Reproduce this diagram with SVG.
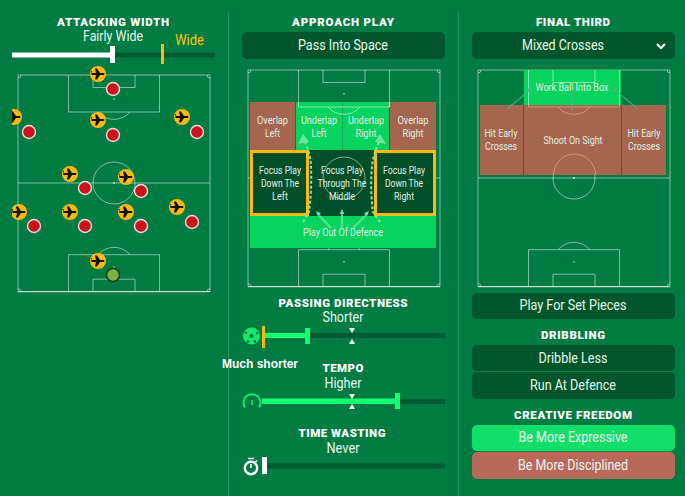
<svg xmlns="http://www.w3.org/2000/svg" width="685" height="496" viewBox="0 0 685 496">
<style>
.h{font:900 11.5px Roboto,"Liberation Sans",sans-serif;fill:#fff;text-anchor:middle}
.t{font:400 14.5px Roboto,"Liberation Sans",sans-serif;fill:#e9f6ee;text-anchor:middle}
.z{font:400 11.5px Roboto,"Liberation Sans",sans-serif;fill:#e2efe6;text-anchor:middle}
.btn{fill:#00562b}
.ln{fill:none;stroke:#fff;stroke-opacity:.5;stroke-width:1}
.lnb{fill:none;stroke:#fff;stroke-opacity:.75;stroke-width:1.200}
.track{fill:#005c2f}
.brown{fill:#a5654f}
.lime{fill:#06d45e}
.dark{fill:#004f28}
.sel{fill:none;stroke:#fdb913;stroke-width:3}
.arw{fill:none;stroke:#7fe8a8;stroke-opacity:.7;stroke-width:2}
.dash{fill:none;stroke:#7fe8a8;stroke-width:2;stroke-dasharray:3 2}
.ah{fill:#7fe8a8;fill-opacity:.85}
.ft{fill:none;stroke:#4fb07a;stroke-opacity:.75;stroke-width:1.600}
.fth{fill:#4fb07a;fill-opacity:.85}
.y{fill:#fdb913}
.r{fill:#c8141e;stroke:#f0dcdc;stroke-width:1.400}
.fast{fill:#14ff70}
</style>
<defs>
<g id="pitch">
<path class="ln" d="M0 216.700V0H192V216.700" stroke-width="1.200"/>
<path class="lnb" d="M0 216.700H192"/>
<path class="ln" d="M50.500 0V37H141.500V0M75 0V12.500H117V0M0 108H192"/>
<circle class="ln" cx="96" cy="108" r="21"/>
<path class="ln" d="M80 37A21 21 0 0 0 112 37"/>
<path class="ln" d="M50.500 216.700V179.700H141.500V216.700M75 216.700V204.200H117V216.700"/>
<path class="ln" d="M80 179.700A21 21 0 0 1 112 179.700"/>
<circle cx="96" cy="24" r=".8" fill="#fff" fill-opacity=".7"/>
<circle cx="96" cy="192" r=".8" fill="#fff" fill-opacity=".7"/>
<circle cx="96" cy="108" r=".9" fill="#fff" fill-opacity=".8"/>
<path class="ln" d="M0 3A3 3 0 0 0 3 0M189 0A3 3 0 0 0 192 3M0 213.700A3 3 0 0 1 3 216.700M189 216.700A3 3 0 0 1 192 213.700"/>
</g>
<g id="pl"><circle class="y" r="8"/><path d="M-6.500-1H-2L-3-5.500H-1L2-1H5.500C6.800-1 6.800 1 5.500 1H2L-1 5.500H-3L-2 1H-6.500L-7-3H-6Z" fill="#111"/></g>
<circle id="rd" class="r" r="6.500"/>
</defs>
<rect width="685" height="496" fill="#007b41"/>
<path d="M228.500 12V496M458.500 12V496" stroke="#fff" stroke-opacity=".16" fill="none"/>

<g id="attacking-width">
<text class="h" x="113" y="26" textLength="112">ATTACKING WIDTH</text>
<text class="t" x="113" y="41" textLength="60" lengthAdjust="spacingAndGlyphs">Fairly Wide</text>
<text x="189.500" y="45" font-family="Roboto,'Liberation Sans',sans-serif" font-size="14" fill="#ffc400" text-anchor="middle" textLength="29" lengthAdjust="spacingAndGlyphs">Wide</text>
<rect class="track" x="112" y="52.500" width="103" height="5"/>
<rect x="12" y="52.500" width="100" height="5" fill="#fff"/>
<rect x="110" y="46" width="5" height="17" fill="#fff"/>
<rect x="161" y="44" width="3" height="20" fill="#fdb913"/>
</g>
<g id="formation-pitch">
<use href="#pitch" x="18" y="75"/>
<use href="#rd" x="113" y="89"/><use href="#rd" x="29" y="132"/><use href="#rd" x="113" y="135"/><use href="#rd" x="197" y="132"/>
<use href="#rd" x="85" y="188"/><use href="#rd" x="141" y="191"/><use href="#rd" x="34" y="226"/><use href="#rd" x="85" y="226"/><use href="#rd" x="141" y="226"/><use href="#rd" x="192" y="222"/>
<circle cx="113" cy="275" r="6.500" fill="#7cb342" stroke="#1b3a20" stroke-width="1.500"/>
<clipPath id="c1"><rect x="12" y="60" width="210" height="240"/></clipPath>
<g clip-path="url(#c1)">
<use href="#pl" x="98" y="74"/><use href="#pl" x="14" y="117"/><use href="#pl" x="98" y="120"/><use href="#pl" x="182" y="117"/>
<use href="#pl" x="70" y="174"/><use href="#pl" x="126" y="177"/><use href="#pl" x="19" y="212"/><use href="#pl" x="70" y="212"/><use href="#pl" x="126" y="212"/><use href="#pl" x="177" y="207"/><use href="#pl" x="98" y="261"/>
</g>
</g>

<g id="approach-title"><text class="h" x="343" y="26" textLength="102">APPROACH PLAY</text></g>
<g id="pass-into-space"><rect class="btn" x="242" y="32" width="203" height="27" rx="5"/><text class="t" x="343" y="50" textLength="90" lengthAdjust="spacingAndGlyphs">Pass Into Space</text></g>
<g id="approach-pitch"><use href="#pitch" x="248" y="70"/></g>
<g id="overlap-left"><rect class="brown" x="250" y="102" width="45" height="48"/><text class="z" x="272.500" y="124" textLength="31" lengthAdjust="spacingAndGlyphs">Overlap</text><text class="z" x="272.500" y="137" textLength="15" lengthAdjust="spacingAndGlyphs">Left</text></g>
<g id="underlap-left"><rect class="lime" x="296" y="102" width="46.500" height="48"/><text class="z" x="319" y="124" textLength="36" lengthAdjust="spacingAndGlyphs">Underlap</text><text class="z" x="319" y="137" textLength="15" lengthAdjust="spacingAndGlyphs">Left</text></g>
<g id="underlap-right"><rect class="lime" x="343" y="102" width="46" height="48"/><text class="z" x="366" y="124" textLength="36" lengthAdjust="spacingAndGlyphs">Underlap</text><text class="z" x="366" y="137" textLength="21" lengthAdjust="spacingAndGlyphs">Right</text></g>
<g id="overlap-right"><rect class="brown" x="390" y="102" width="46" height="48"/><text class="z" x="413" y="124" textLength="31" lengthAdjust="spacingAndGlyphs">Overlap</text><text class="z" x="413" y="137" textLength="21" lengthAdjust="spacingAndGlyphs">Right</text></g>
<rect class="dark" x="250" y="150" width="186" height="66"/>
<path class="ln" d="M298.500 102V107H389.500V102M328 107A21 21 0 0 0 360 107" stroke-opacity=".35"/>
<circle class="ln" cx="344" cy="178" r="21" stroke-opacity=".3"/>
<g id="play-out"><rect class="lime" x="250" y="216" width="186" height="32"/><text class="z" x="343" y="235.500" textLength="80" lengthAdjust="spacingAndGlyphs">Play Out Of Defence</text></g>
<g id="focus-left"><rect class="sel" x="251.500" y="151.500" width="56" height="63"/><text class="z" x="280" y="174" textLength="42" lengthAdjust="spacingAndGlyphs">Focus Play</text><text class="z" x="280" y="187" textLength="38" lengthAdjust="spacingAndGlyphs">Down The</text><text class="z" x="280" y="200" textLength="16" lengthAdjust="spacingAndGlyphs">Left</text></g>
<g id="focus-middle"><text class="z" x="342" y="174" textLength="42" lengthAdjust="spacingAndGlyphs">Focus Play</text><text class="z" x="342" y="187" textLength="49" lengthAdjust="spacingAndGlyphs">Through The</text><text class="z" x="342" y="200" textLength="26" lengthAdjust="spacingAndGlyphs">Middle</text></g>
<g id="focus-right"><rect class="sel" x="375.500" y="151.500" width="59" height="63"/><text class="z" x="404" y="174" textLength="42" lengthAdjust="spacingAndGlyphs">Focus Play</text><text class="z" x="404" y="187" textLength="38" lengthAdjust="spacingAndGlyphs">Down The</text><text class="z" x="404" y="200" textLength="20" lengthAdjust="spacingAndGlyphs">Right</text></g>

<g id="passing-directness">
<text class="h" x="343" y="307" textLength="129">PASSING DIRECTNESS</text>
<text class="t" x="343" y="322" textLength="41" lengthAdjust="spacingAndGlyphs">Shorter</text>
<rect class="track" x="262" y="333" width="183" height="5"/>
<rect class="fast" x="265" y="333" width="40" height="5"/>
<rect class="fast" x="305" y="328" width="5" height="16"/>
<rect x="262" y="326" width="3" height="22" fill="#fdb913"/>
<path d="M349 328H355L352 333ZM349 344H355L352 339Z" fill="#fff"/>
<circle cx="251.500" cy="336" r="8.500" fill="#14e868"/>
<circle cx="251.500" cy="336" r="2" fill="#006a38"/><circle cx="246" cy="333" r="1.200" fill="#006a38"/><circle cx="257" cy="333" r="1.200" fill="#006a38"/><circle cx="248" cy="341.500" r="1.200" fill="#006a38"/><circle cx="255" cy="341.500" r="1.200" fill="#006a38"/>
<text x="260" y="368" font-family="'Liberation Sans',sans-serif" font-size="12" font-weight="700" fill="#fff" text-anchor="middle" textLength="76">Much shorter</text>
</g>
<g id="tempo">
<text class="h" x="343" y="372" textLength="41">TEMPO</text>
<text class="t" x="343" y="388" textLength="37" lengthAdjust="spacingAndGlyphs">Higher</text>
<rect class="track" x="262" y="399" width="183" height="5"/>
<rect class="fast" x="262" y="398.500" width="136" height="5.500"/>
<rect class="fast" x="395" y="393" width="5" height="16"/>
<path d="M349 394H355L352 399ZM349 409H355L352 404Z" fill="#fff"/>
<path d="M245 407.500A8.500 8.500 0 1 1 259 407.500" fill="none" stroke="#14e868" stroke-width="2"/><path d="M252 400V405" stroke="#14e868" stroke-width="1.500"/>
</g>
<g id="time-wasting">
<text class="h" x="342" y="437" textLength="87">TIME WASTING</text>
<text class="t" x="343" y="453" textLength="33" lengthAdjust="spacingAndGlyphs">Never</text>
<rect class="track" x="262" y="463.500" width="183" height="5"/>
<rect x="262" y="457" width="5" height="17" fill="#fff"/>
<circle cx="251" cy="468" r="6.200" fill="none" stroke="#fff" stroke-width="2.400"/><path d="M248 458.500H254M257 460.500L255.500 462M251 468V464" stroke="#fff" stroke-width="1.600" fill="none"/>
</g>

<g id="final-title"><text class="h" x="573" y="26" textLength="74">FINAL THIRD</text></g>
<g id="mixed-crosses"><rect class="btn" x="472" y="32" width="203" height="27" rx="5"/><text class="t" x="563" y="50" textLength="82" lengthAdjust="spacingAndGlyphs">Mixed Crosses</text><path d="M657 44L661 48L665 44" fill="none" stroke="#fff" stroke-width="2"/></g>
<g id="final-pitch"><use href="#pitch" x="478" y="70"/></g>
<g id="work-ball"><rect x="524" y="70" width="97" height="35" fill="#06d45e"/><path class="ln" d="M528.500 70V107H619.500V70M553 70V82.500H595V70" stroke-opacity=".4"/><text class="z" x="572" y="90.500" textLength="73" lengthAdjust="spacingAndGlyphs">Work Ball Into Box</text></g>
<g id="hit-early-left"><rect class="brown" x="480" y="105" width="43" height="70"/><text class="z" x="501" y="137" textLength="33" lengthAdjust="spacingAndGlyphs">Hit Early</text><text class="z" x="501" y="150" textLength="32" lengthAdjust="spacingAndGlyphs">Crosses</text></g>
<g id="shoot-on-sight"><rect class="brown" x="524" y="105" width="97" height="70"/><path d="M528.500 105V107H619.500V105M558 107A21 21 0 0 0 590 107M553.500 175A21 21 0 0 1 595.500 175" fill="none" stroke="#f0a090" stroke-opacity=".7"/><text class="z" x="573" y="144" textLength="59" lengthAdjust="spacingAndGlyphs">Shoot On Sight</text></g>
<g id="hit-early-right"><rect class="brown" x="622" y="105" width="44" height="70"/><text class="z" x="644" y="137" textLength="33" lengthAdjust="spacingAndGlyphs">Hit Early</text><text class="z" x="644" y="150" textLength="32" lengthAdjust="spacingAndGlyphs">Crosses</text></g>

<g id="connectors">
<path class="dash" d="M303 222L309 212Q312 190 311 167Q311 155 305 142"/>
<path class="dash" d="M380 222L373 212Q370 190 372 167Q373 155 379 142"/>
<path class="arw" d="M342 229V212M331 228L317 213M353 228L368 213"/>
<path class="ah" d="M303 134L309 142L298 144ZM380 134L386 144L375 142ZM342 209L344.500 214H339.500ZM316 211L321 213L318 216ZM369 211L367 216L364 213Z"/>
<path class="ft" d="M507 109L530 90M572 111V92M638 109L615 90"/>
<path class="fth" d="M532 87.500L530 92.500L527 89ZM572 88.500L574.500 93H569.500ZM613 87.500L618 89L615 92.500Z"/>
</g>

<g id="set-pieces"><rect class="btn" x="472" y="293" width="203" height="26" rx="5"/><text class="t" x="573" y="310" textLength="107" lengthAdjust="spacingAndGlyphs">Play For Set Pieces</text></g>
<g id="dribbling-title"><text class="h" x="573" y="339" textLength="64">DRIBBLING</text></g>
<g id="dribble-less"><rect class="btn" x="472" y="345" width="203" height="26" rx="5"/><text class="t" x="573" y="363" textLength="69" lengthAdjust="spacingAndGlyphs">Dribble Less</text></g>
<g id="run-at-defence"><rect class="btn" x="472" y="372" width="203" height="27" rx="5"/><text class="t" x="573" y="390" textLength="86" lengthAdjust="spacingAndGlyphs">Run At Defence</text></g>
<g id="creative-title"><text class="h" x="573" y="419" textLength="118">CREATIVE FREEDOM</text></g>
<g id="be-more-expressive"><rect x="472" y="425" width="203" height="26" rx="5" fill="#12de6a"/><text class="t" x="573" y="442" textLength="109" lengthAdjust="spacingAndGlyphs">Be More Expressive</text></g>
<g id="be-more-disciplined"><rect x="472" y="452" width="203" height="27" rx="5" fill="#b9695a"/><text class="t" x="573" y="470" textLength="110" lengthAdjust="spacingAndGlyphs">Be More Disciplined</text></g>
</svg>
